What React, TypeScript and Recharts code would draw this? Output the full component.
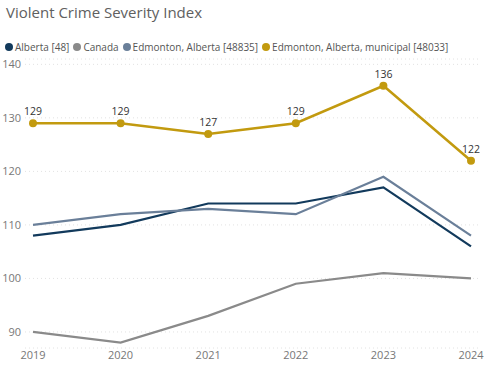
import React from "react";
import { LineChart, Line, XAxis, YAxis, CartesianGrid, LabelList } from "recharts";

const years = ["2019", "2020", "2021", "2022", "2023", "2024"];
const alberta = [108, 110, 114, 114, 117, 106];
const canada = [90, 88, 93, 99, 101, 100];
const edmonton = [110, 112, 113, 112, 119, 108];
const municipal = [129, 129, 127, 129, 136, 122];
const yTicks = [90, 100, 110, 120, 130, 140];

const SERIES = [
  { key: "alberta", name: "Alberta [48]", color: "#123a5c", width: 2.2 },
  { key: "canada", name: "Canada", color: "#8a8a8a", width: 2.2 },
  { key: "edmonton", name: "Edmonton, Alberta [48835]", color: "#6a7f99", width: 2.2 },
  { key: "municipal", name: "Edmonton, Alberta, municipal [48033]", color: "#c29a0f", width: 2.5 },
];

const FONT = '"Segoe UI", "Open Sans", "Noto Sans", sans-serif';

export default function App() {
  const data = years.map((year, i) => ({
    year,
    alberta: alberta[i],
    canada: canada[i],
    edmonton: edmonton[i],
    municipal: municipal[i],
  }));

  return (
    <div style={{ position: "fixed", left: 0, top: 0, width: 500, height: 372, background: "#fff", fontFamily: FONT }}>
      <div style={{ position: "absolute", left: 6, top: 2, fontSize: 15, color: "#606060" }}>
        Violent Crime Severity Index
      </div>
      <div style={{ position: "absolute", left: 5, top: 40, display: "flex", fontSize: 10, color: "#555", whiteSpace: "nowrap" }}>
        {SERIES.map((s) => (
          <div key={s.key} style={{ display: "flex", alignItems: "center", marginRight: 4 }}>
            <span style={{ width: 8, height: 8, borderRadius: 4, background: s.color, display: "inline-block", marginRight: 2 }} />
            <span>{s.name}</span>
          </div>
        ))}
      </div>
      <LineChart width={500} height={372} data={data} margin={{ top: 59, right: 20, bottom: 0, left: 0 }}>
        <CartesianGrid horizontal vertical={false} stroke="#e2e2e2" strokeDasharray="1 3" />
        <XAxis
          dataKey="year"
          axisLine={false}
          tickLine={false}
          tickSize={0}
          tickMargin={3}
          height={24}
          padding={{ left: 8, right: 9 }}
          tick={{ fontSize: 11, fill: "#777", fontFamily: FONT }}
          interval={0}
        />
        <YAxis
          domain={[87, 141]}
          ticks={yTicks}
          axisLine={false}
          tickLine={false}
          tickSize={0}
          tickMargin={4}
          width={25}
          tick={{ fontSize: 11, fill: "#777", fontFamily: FONT }}
        />
        {SERIES.map((s) => (
          <Line
            key={s.key}
            dataKey={s.key}
            name={s.name}
            stroke={s.color}
            strokeWidth={s.width}
            dot={s.key === "municipal" ? { r: 4, fill: s.color, stroke: s.color, strokeWidth: 0 } : false}
            isAnimationActive={false}
          >
            {s.key === "municipal" && (
              <LabelList dataKey="municipal" position="top" offset={8} style={{ fontSize: 10.5, fill: "#333", fontFamily: FONT }} />
            )}
          </Line>
        ))}
      </LineChart>
    </div>
  );
}
